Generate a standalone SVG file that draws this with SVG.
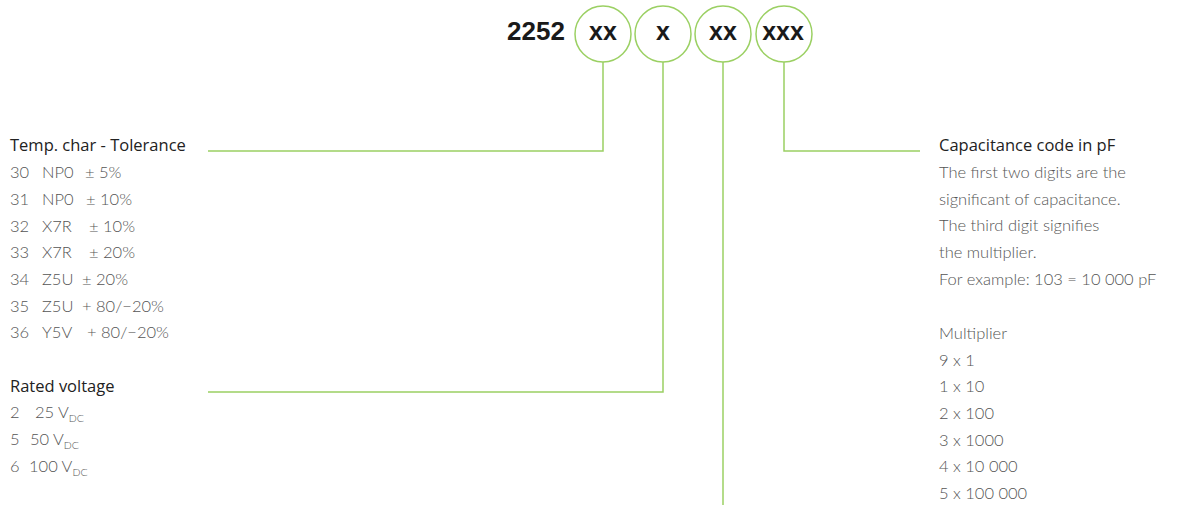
<svg xmlns="http://www.w3.org/2000/svg" width="1183" height="515" viewBox="0 0 1183 515">
<style>
.c{fill:#fff;stroke:#9bd063;stroke-width:1.5}
.ln{fill:none;stroke:#9bd063;stroke-width:1.5}
.code{font-family:"Liberation Sans",Arial,sans-serif;font-weight:bold;font-size:25px;fill:#1a1a1a;text-anchor:middle}
.h{font-family:"Open Sans","Liberation Sans",sans-serif;font-size:16.5px;fill:#222}
.t{font-family:Lato,"Liberation Sans",sans-serif;font-weight:300;font-size:16.5px;fill:#555}
.s{font-size:10.5px}
</style>
<rect width="1183" height="515" fill="#fff"/>
<g id="connectors">
<polyline class="ln" points="603,62 603,151 208,151"/>
<polyline class="ln" points="663,62 663,392 208,392"/>
<polyline class="ln" points="723,62 723,505"/>
<polyline class="ln" points="784,62 784,151 920,151"/>
</g>
<g id="prefix"><text class="code" x="536" y="40" style="font-size:26px">2252</text></g>
<g id="n1"><circle class="c" cx="603" cy="34" r="28"/><text class="code" x="603" y="40">xx</text></g>
<g id="n2"><circle class="c" cx="663" cy="34" r="28"/><text class="code" x="663" y="40">x</text></g>
<g id="n3"><circle class="c" cx="723" cy="34" r="28"/><text class="code" x="723" y="40">xx</text></g>
<g id="n4"><circle class="c" cx="784" cy="34" r="28"/><text class="code" x="783" y="40">xxx</text></g>
<g id="tempchar">
<text class="h" x="10" y="151">Temp. char - Tolerance</text>
<text class="t" y="178"><tspan x="10">30</tspan><tspan x="42">NP0</tspan><tspan x="85">± 5%</tspan></text>
<text class="t" y="205"><tspan x="10">31</tspan><tspan x="42">NP0</tspan><tspan x="86">± 10%</tspan></text>
<text class="t" y="232"><tspan x="10">32</tspan><tspan x="42">X7R</tspan><tspan x="89">± 10%</tspan></text>
<text class="t" y="258"><tspan x="10">33</tspan><tspan x="42">X7R</tspan><tspan x="89">± 20%</tspan></text>
<text class="t" y="285"><tspan x="10">34</tspan><tspan x="42">Z5U</tspan><tspan x="82">± 20%</tspan></text>
<text class="t" y="312"><tspan x="10">35</tspan><tspan x="42">Z5U</tspan><tspan x="82">+ 80/−20%</tspan></text>
<text class="t" y="338"><tspan x="10">36</tspan><tspan x="42">Y5V</tspan><tspan x="87">+ 80/−20%</tspan></text>
</g>
<g id="voltage">
<text class="h" x="10" y="392">Rated voltage</text>
<text class="t" y="418"><tspan x="10">2</tspan><tspan x="35">25 V</tspan><tspan class="s" dy="4">DC</tspan></text>
<text class="t" y="445"><tspan x="10">5</tspan><tspan x="30">50 V</tspan><tspan class="s" dy="4">DC</tspan></text>
<text class="t" y="472"><tspan x="10">6</tspan><tspan x="29">100 V</tspan><tspan class="s" dy="4">DC</tspan></text>
</g>
<g id="capacitance">
<text class="h" x="939" y="151">Capacitance code in pF</text>
<text class="t" x="939" y="178">The first two digits are the</text>
<text class="t" x="939" y="205">significant of capacitance.</text>
<text class="t" x="939" y="231">The third digit signifies</text>
<text class="t" x="939" y="258">the multiplier.</text>
<text class="t" x="939" y="285">For example: 103 = 10 000 pF</text>
<text class="t" x="939" y="339">Multiplier</text>
<text class="t" x="939" y="366">9 x 1</text>
<text class="t" x="939" y="392">1 x 10</text>
<text class="t" x="939" y="419">2 x 100</text>
<text class="t" x="939" y="446">3 x 1000</text>
<text class="t" x="939" y="472">4 x 10 000</text>
<text class="t" x="939" y="499">5 x 100 000</text>
</g>
</svg>
